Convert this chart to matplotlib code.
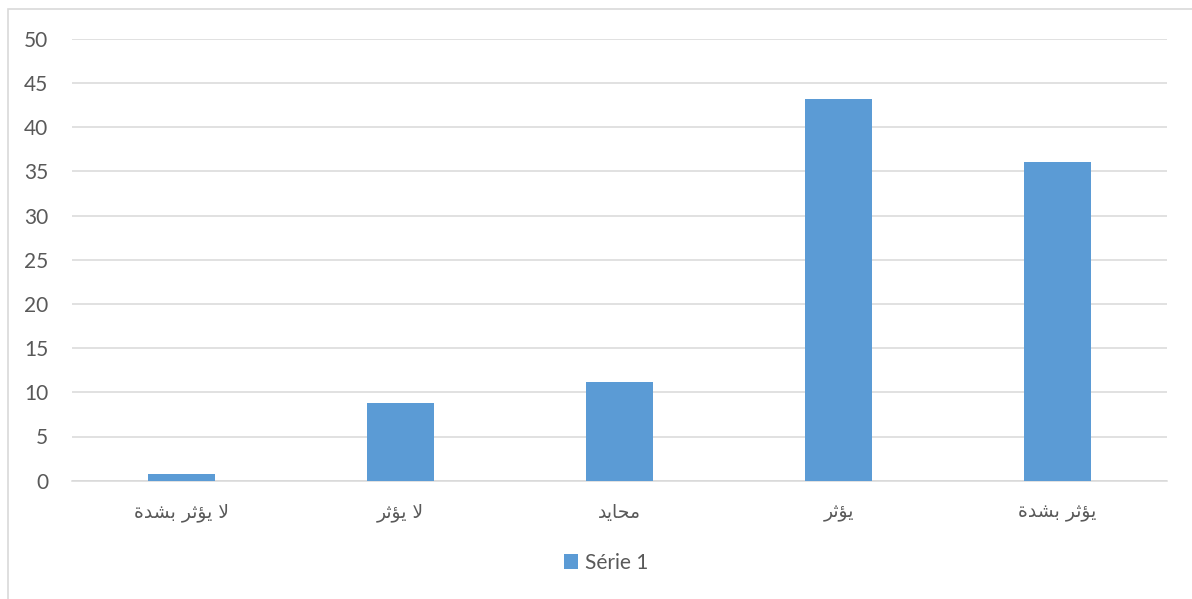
import matplotlib
matplotlib.use("Agg")
import matplotlib.pyplot as plt
from matplotlib.patches import Rectangle

plt.rcParams["font.family"] = ["Lato", "DejaVu Sans"]

categories = ["لا يؤثر بشدة", "لا يؤثر", "محايد", "يؤثر", "يؤثر بشدة"]
values = [0.8, 8.8, 11.2, 43.2, 36.0]
series_name = "Série 1"
y_ticks = [0, 5, 10, 15, 20, 25, 30, 35, 40, 45, 50]

BAR_COLOR = "#5B9BD5"
GRID_COLOR = "#D9D9D9"
TEXT_COLOR = "#595959"

# Arabic contextual forms: (isolated, final, initial, medial)
FORMS = {
    "ا": ("\uFE8D", "\uFE8E", None, None),
    "ؤ": ("\uFE85", "\uFE86", None, None),
    "د": ("\uFEA9", "\uFEAA", None, None),
    "ر": ("\uFEAD", "\uFEAE", None, None),
    "ة": ("\uFE93", "\uFE94", None, None),
    "ي": ("\uFEF1", "\uFEF2", "\uFEF3", "\uFEF4"),
    "ث": ("\uFE99", "\uFE9A", "\uFE9B", "\uFE9C"),
    "ب": ("\uFE8F", "\uFE90", "\uFE91", "\uFE92"),
    "ش": ("\uFEB5", "\uFEB6", "\uFEB7", "\uFEB8"),
    "م": ("\uFEE1", "\uFEE2", "\uFEE3", "\uFEE4"),
    "ح": ("\uFEA1", "\uFEA2", "\uFEA3", "\uFEA4"),
    "ل": ("\uFEDD", "\uFEDE", "\uFEDF", "\uFEE0"),
    "لا": ("\uFEFB", "\uFEFC", None, None),
}


def shape_arabic(text):
    """Join Arabic letters into presentation forms in visual (left-to-right) order."""
    words = []
    for word in text.split(" "):
        chars, i = [], 0
        while i < len(word):
            if word[i] == "ل" and i + 1 < len(word) and word[i + 1] == "ا":
                chars.append("لا")
                i += 2
            else:
                chars.append(word[i])
                i += 1
        glyphs = []
        for k, c in enumerate(chars):
            forms = FORMS[c]
            prev_joins = k > 0 and FORMS[chars[k - 1]][2] is not None
            next_joins = k + 1 < len(chars) and forms[2] is not None
            if prev_joins and next_joins:
                g = forms[3]
            elif prev_joins:
                g = forms[1]
            elif next_joins:
                g = forms[2]
            else:
                g = forms[0]
            glyphs.append(g)
        words.append("".join(reversed(glyphs)))
    return " ".join(reversed(words))


fig = plt.figure(figsize=(11.92, 5.99), dpi=100)
fig.patch.set_facecolor("white")

# chart frame
fig.patches.append(Rectangle((8 / 1192, -0.1), 1.2, 1 - 9 / 599 + 0.1,
                             transform=fig.transFigure, fill=False,
                             edgecolor=GRID_COLOR, linewidth=1.2))

ax = fig.add_axes([72 / 1192, 1 - 480.7 / 599, (1167 - 72) / 1192, (480.7 - 38.7) / 599])

x = list(range(len(categories)))
bars = ax.bar(x, values, width=0.31, color=BAR_COLOR, label=series_name, zorder=3)

ax.set_xlim(-0.5, len(categories) - 0.5)
ax.set_ylim(0, 50)
ax.set_yticks(y_ticks)
ax.set_yticklabels([str(t) for t in y_ticks])
ax.set_xticks(x)
ax.set_xticklabels([shape_arabic(c) for c in categories], family=["DejaVu Sans"], fontsize=13.5)

ax.yaxis.grid(True, color=GRID_COLOR, linewidth=1.1, zorder=0)
ax.set_axisbelow(True)
for side in ["top", "right", "left"]:
    ax.spines[side].set_visible(False)
ax.spines["bottom"].set_color(GRID_COLOR)
ax.spines["bottom"].set_linewidth(1.1)
ax.spines["bottom"].set_zorder(1)

ax.tick_params(axis="y", length=0, pad=17, labelsize=15, labelcolor=TEXT_COLOR)
ax.tick_params(axis="x", length=0, pad=16, labelcolor=TEXT_COLOR)

fig.legend(handles=[bars], labels=[series_name], loc="center",
           bbox_to_anchor=(606 / 1192, 1 - 563 / 599), frameon=False,
           fontsize=15, labelcolor=TEXT_COLOR, handlelength=0.7,
           handleheight=0.7, handletextpad=0.3)

fig.savefig("out.png", dpi=100, facecolor="white")
